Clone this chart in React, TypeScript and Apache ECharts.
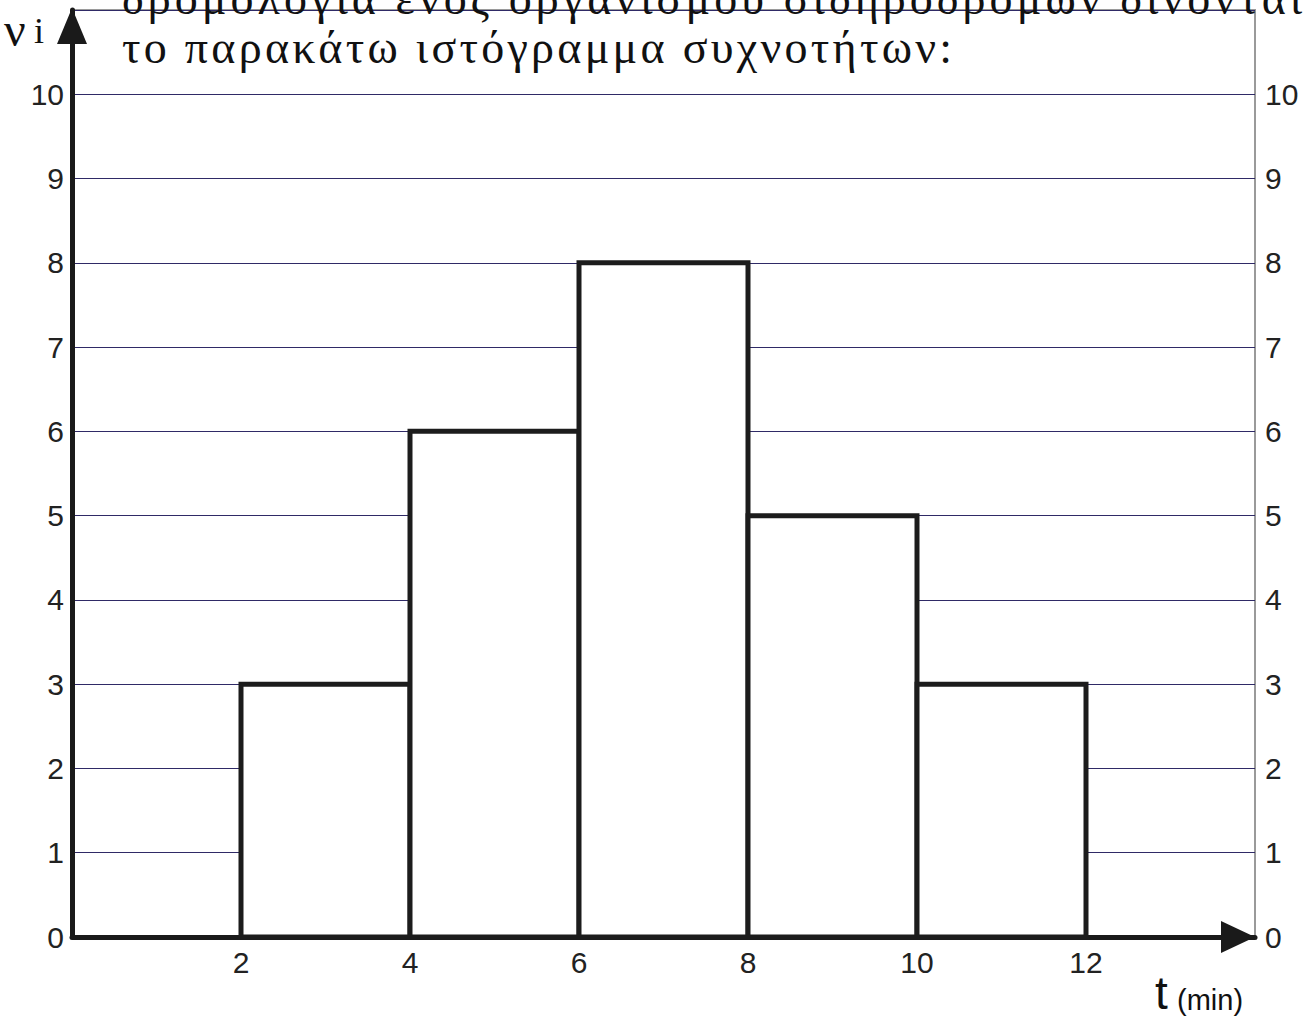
import React, { useEffect, useRef } from "react";
import * as echarts from "echarts";

const binStarts = [2, 4, 6, 8, 10];
const binEnds = [4, 6, 8, 10, 12];
const frequencies = [3, 6, 8, 5, 3];
const xTickLabels = ["2", "4", "6", "8", "10", "12"];
const yTickLabels = ["0", "1", "2", "3", "4", "5", "6", "7", "8", "9", "10"];
const titleLine1 = "δρομολόγια ενός οργανισμού σιδηροδρόμων δίνονται";
const titleLine2 = "το παρακάτω ιστόγραμμα συχνοτήτων:";
const yName = "ν";
const ySub = "i";
const xName = "t";
const xUnit = "(min)";

const TITLE_FONT = '46px "Liberation Serif"';

function measure(text: string, font: string): number {
  const c = document.createElement("canvas");
  const ctx = c.getContext("2d");
  if (!ctx) return 0;
  ctx.font = font;
  return ctx.measureText(text).width;
}

export default function App() {
  const ref = useRef<HTMLDivElement>(null);
  useEffect(() => {
    if (!ref.current) return;
    const chart = echarts.init(ref.current, null, { renderer: "svg" });
    const data = binStarts.map((s, i) => [s, binEnds[i], frequencies[i]]);
    const yFmt = (v: number) => {
      const s = String(v);
      return yTickLabels.includes(s) ? s : "";
    };
    const labelStyle = {
      fontSize: 30,
      color: "#222",
      fontFamily: "Liberation Sans",
    };
    const option: any = {
      animation: false,
      grid: {
        left: 72,
        right: 52,
        top: 10,
        bottom: 83,
        show: true,
        borderColor: "#9a9a9a",
        borderWidth: 2,
        backgroundColor: "transparent",
      },
      xAxis: {
        type: "value",
        min: 0,
        max: 14,
        interval: 2,
        axisLine: {
          show: true,
          onZero: false,
          lineStyle: { color: "#1a1a1a", width: 5 },
          symbol: ["none", "triangle"],
          symbolSize: [32, 34],
          symbolOffset: [0, -17],
        },
        axisTick: { show: false },
        splitLine: { show: false },
        axisLabel: {
          margin: 10,
          ...labelStyle,
          formatter: (v: number) => {
            const s = String(v);
            return xTickLabels.includes(s) ? s : "";
          },
        },
      },
      yAxis: [
        {
          type: "value",
          min: 0,
          max: 11,
          interval: 1,
          position: "left",
          axisLine: {
            show: true,
            onZero: false,
            lineStyle: { color: "#1a1a1a", width: 5 },
            symbol: ["none", "triangle"],
            symbolSize: [30, 36],
            symbolOffset: [0, -16],
          },
          axisTick: { show: false },
          splitLine: { show: true, lineStyle: { color: "#2f2a66", width: 1 } },
          axisLabel: {
            margin: 8,
            ...labelStyle,
            formatter: yFmt,
          },
        },
        {
          type: "value",
          min: 0,
          max: 11,
          interval: 1,
          position: "right",
          axisLine: { show: false },
          axisTick: { show: false },
          splitLine: { show: false },
          axisLabel: {
            margin: 10,
            ...labelStyle,
            formatter: yFmt,
          },
        },
      ],
      series: [
        {
          type: "custom",
          xAxisIndex: 0,
          yAxisIndex: 0,
          data,
          encode: { x: [0, 1], y: 2 },
          renderItem: (params: any, api: any) => {
            const p0 = api.coord([api.value(0), api.value(2)]);
            const p1 = api.coord([api.value(1), 0]);
            return {
              type: "rect",
              shape: { x: p0[0], y: p0[1], width: p1[0] - p0[0], height: p1[1] - p0[1] },
              style: { fill: "#ffffff", stroke: "#1c1c1c", lineWidth: 5 },
            };
          },
          z: 3,
        },
      ],
      graphic: [
        {
          type: "text",
          x: 122,
          y: -1.5,
          z: 10,
          style: { text: titleLine1, font: TITLE_FONT, fill: "#111", verticalAlign: "middle", align: "left" },
        },
        {
          type: "text",
          x: 122,
          y: 47.5,
          z: 10,
          style: { text: titleLine2, font: TITLE_FONT, fill: "#111", verticalAlign: "middle", align: "left" },
        },
        {
          type: "text",
          x: 4,
          y: 29,
          z: 10,
          style: { text: yName, font: '48px "Liberation Serif"', fill: "#111", verticalAlign: "middle" },
        },
        {
          type: "text",
          x: 34,
          y: 31,
          z: 10,
          style: { text: ySub, font: '36px "Liberation Serif"', fill: "#111", verticalAlign: "middle" },
        },
        {
          type: "text",
          x: 1155,
          y: 993,
          z: 10,
          style: { text: xName, font: '46px "Liberation Sans"', fill: "#111", verticalAlign: "middle" },
        },
        {
          type: "text",
          x: 1177,
          y: 1000,
          z: 10,
          style: { text: xUnit, font: '29px "Liberation Sans"', fill: "#111", verticalAlign: "middle" },
        },
      ],
    };
    chart.setOption(option);

    const targets: Record<string, number> = {};
    targets[titleLine1] = 1180;
    targets[titleLine2] = 830;
    const applySpacing = () => {
      const svg = ref.current?.querySelector("svg");
      if (!svg) return;
      svg.querySelectorAll("text").forEach((t) => {
        const txt = t.textContent || "";
        if (targets[txt] !== undefined) {
          const w = measure(txt, TITLE_FONT);
          const ls = (targets[txt] - w) / Math.max(1, txt.length - 1);
          t.setAttribute("letter-spacing", ls.toFixed(2) + "px");
        }
      });
    };
    applySpacing();
    chart.on("finished", applySpacing);
    return () => {
      chart.dispose();
    };
  }, []);
  return (
    <div
      ref={ref}
      style={{ position: "absolute", left: 0, top: 0, width: 1307, height: 1020, background: "#fff" }}
    />
  );
}
